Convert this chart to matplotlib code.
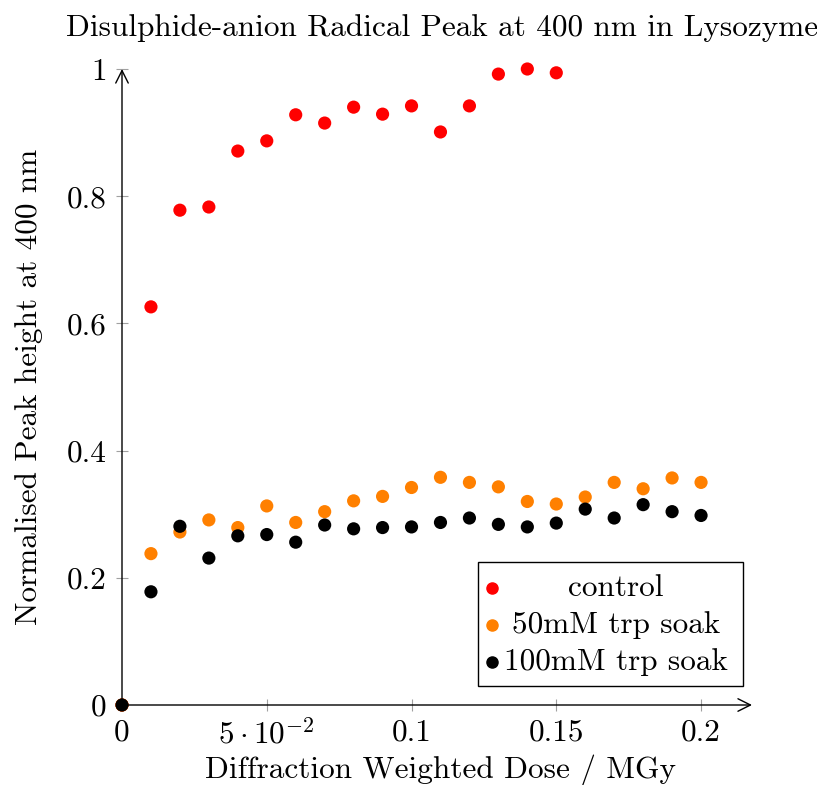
import matplotlib.pyplot as plt
from matplotlib.patches import Rectangle

plt.rcParams.update(
    {
        "font.family": "serif",
        "font.serif": ["cmr10"],
        "mathtext.fontset": "cm",
        "axes.formatter.use_mathtext": True,
        "font.size": 22.5,
    }
)

# dose (MGy)
dose_control = [0, 0.01, 0.02, 0.03, 0.04, 0.05, 0.06, 0.07, 0.08, 0.09, 0.10,
                0.11, 0.12, 0.13, 0.14, 0.15]
dose_trp = [0, 0.01, 0.02, 0.03, 0.04, 0.05, 0.06, 0.07, 0.08, 0.09, 0.10,
            0.11, 0.12, 0.13, 0.14, 0.15, 0.16, 0.17, 0.18, 0.19, 0.20]

# normalised peak heights
control = [0, 0.626, 0.778, 0.783, 0.871, 0.887, 0.928, 0.915, 0.940, 0.929,
           0.942, 0.901, 0.942, 0.992, 1.0, 0.994]
trp_50 = [0, 0.238, 0.272, 0.291, 0.279, 0.313, 0.287, 0.304, 0.321, 0.328,
          0.342, 0.358, 0.350, 0.343, 0.320, 0.316, 0.327, 0.350, 0.340,
          0.357, 0.350]
trp_100 = [0, 0.178, 0.281, 0.231, 0.266, 0.268, 0.256, 0.283, 0.277, 0.279,
           0.280, 0.287, 0.294, 0.284, 0.280, 0.286, 0.308, 0.294, 0.315,
           0.304, 0.298]

labels = ["control", "50mM trp soak", "100mM trp soak"]
colors = ["#ff0000", "#ff8000", "#000000"]

xticks = [0, 0.05, 0.1, 0.15, 0.2]
xticklabels = ["0", r"$5\cdot10^{-2}$", "0.1", "0.15", "0.2"]
yticks = [0, 0.2, 0.4, 0.6, 0.8, 1.0]
yticklabels = ["0", "0.2", "0.4", "0.6", "0.8", "1"]

W, H = 817, 785
fig = plt.figure(figsize=(W / 100, H / 100), dpi=100)
ax = fig.add_axes([122 / W, 1 - 705 / H, 630 / W, 636 / H])

series = [(dose_control, control), (dose_trp, trp_50), (dose_trp, trp_100)]
for (xs, ys), c in zip(series, colors):
    ax.scatter(xs, ys, s=90, color=c, edgecolors="none", clip_on=False, zorder=3)

ax.set_xlim(0, 0.2176)
ax.set_ylim(0, 1.0)
ax.set_xticks(xticks)
ax.set_xticklabels(xticklabels)
ax.set_yticks(yticks)
ax.set_yticklabels(yticklabels)
ax.tick_params(direction="inout", length=8, width=0.8, color="#a0a0a0")
ax.tick_params(axis="x", pad=6)
ax.tick_params(axis="y", pad=7)

for s in ax.spines.values():
    s.set_visible(False)
ax.annotate("", xy=(1, 0), xytext=(0, 0), xycoords="axes fraction",
            arrowprops=dict(arrowstyle="->", lw=1.0, color="black",
                            shrinkA=0, shrinkB=0))
ax.annotate("", xy=(0, 1), xytext=(0, 0), xycoords="axes fraction",
            arrowprops=dict(arrowstyle="->", lw=1.0, color="black",
                            shrinkA=0, shrinkB=0))

fig.text(442 / W, 1 - 36 / H, "Disulphide-anion Radical Peak at 400 nm in Lysozyme",
         ha="center", va="baseline")
ax.set_xlabel("Diffraction Weighted Dose / MGy", va="baseline")
ax.xaxis.set_label_coords(0.505, (705 - 778) / 636)
ax.set_ylabel("Normalised Peak height at 400 nm")
ax.yaxis.set_label_coords((43 - 122) / 630, 0.5)

# legend drawn like pgfplots (marker column + centred text column)
box = Rectangle((478 / W, 1 - 686 / H), 265 / W, 124 / H,
                transform=fig.transFigure, facecolor="white",
                edgecolor="black", lw=1.0, zorder=4)
fig.add_artist(box)
for i, (lab, c) in enumerate(zip(labels, colors)):
    base = 596 + 37 * i
    fig.add_artist(plt.Line2D([492 / W], [1 - (base - 8) / H], marker="o",
                              markersize=8, color=c, linestyle="none",
                              zorder=5, transform=fig.transFigure))
    fig.text(616 / W, 1 - base / H, lab, ha="center", va="baseline", zorder=5)

fig.savefig("out.png", dpi=100)
